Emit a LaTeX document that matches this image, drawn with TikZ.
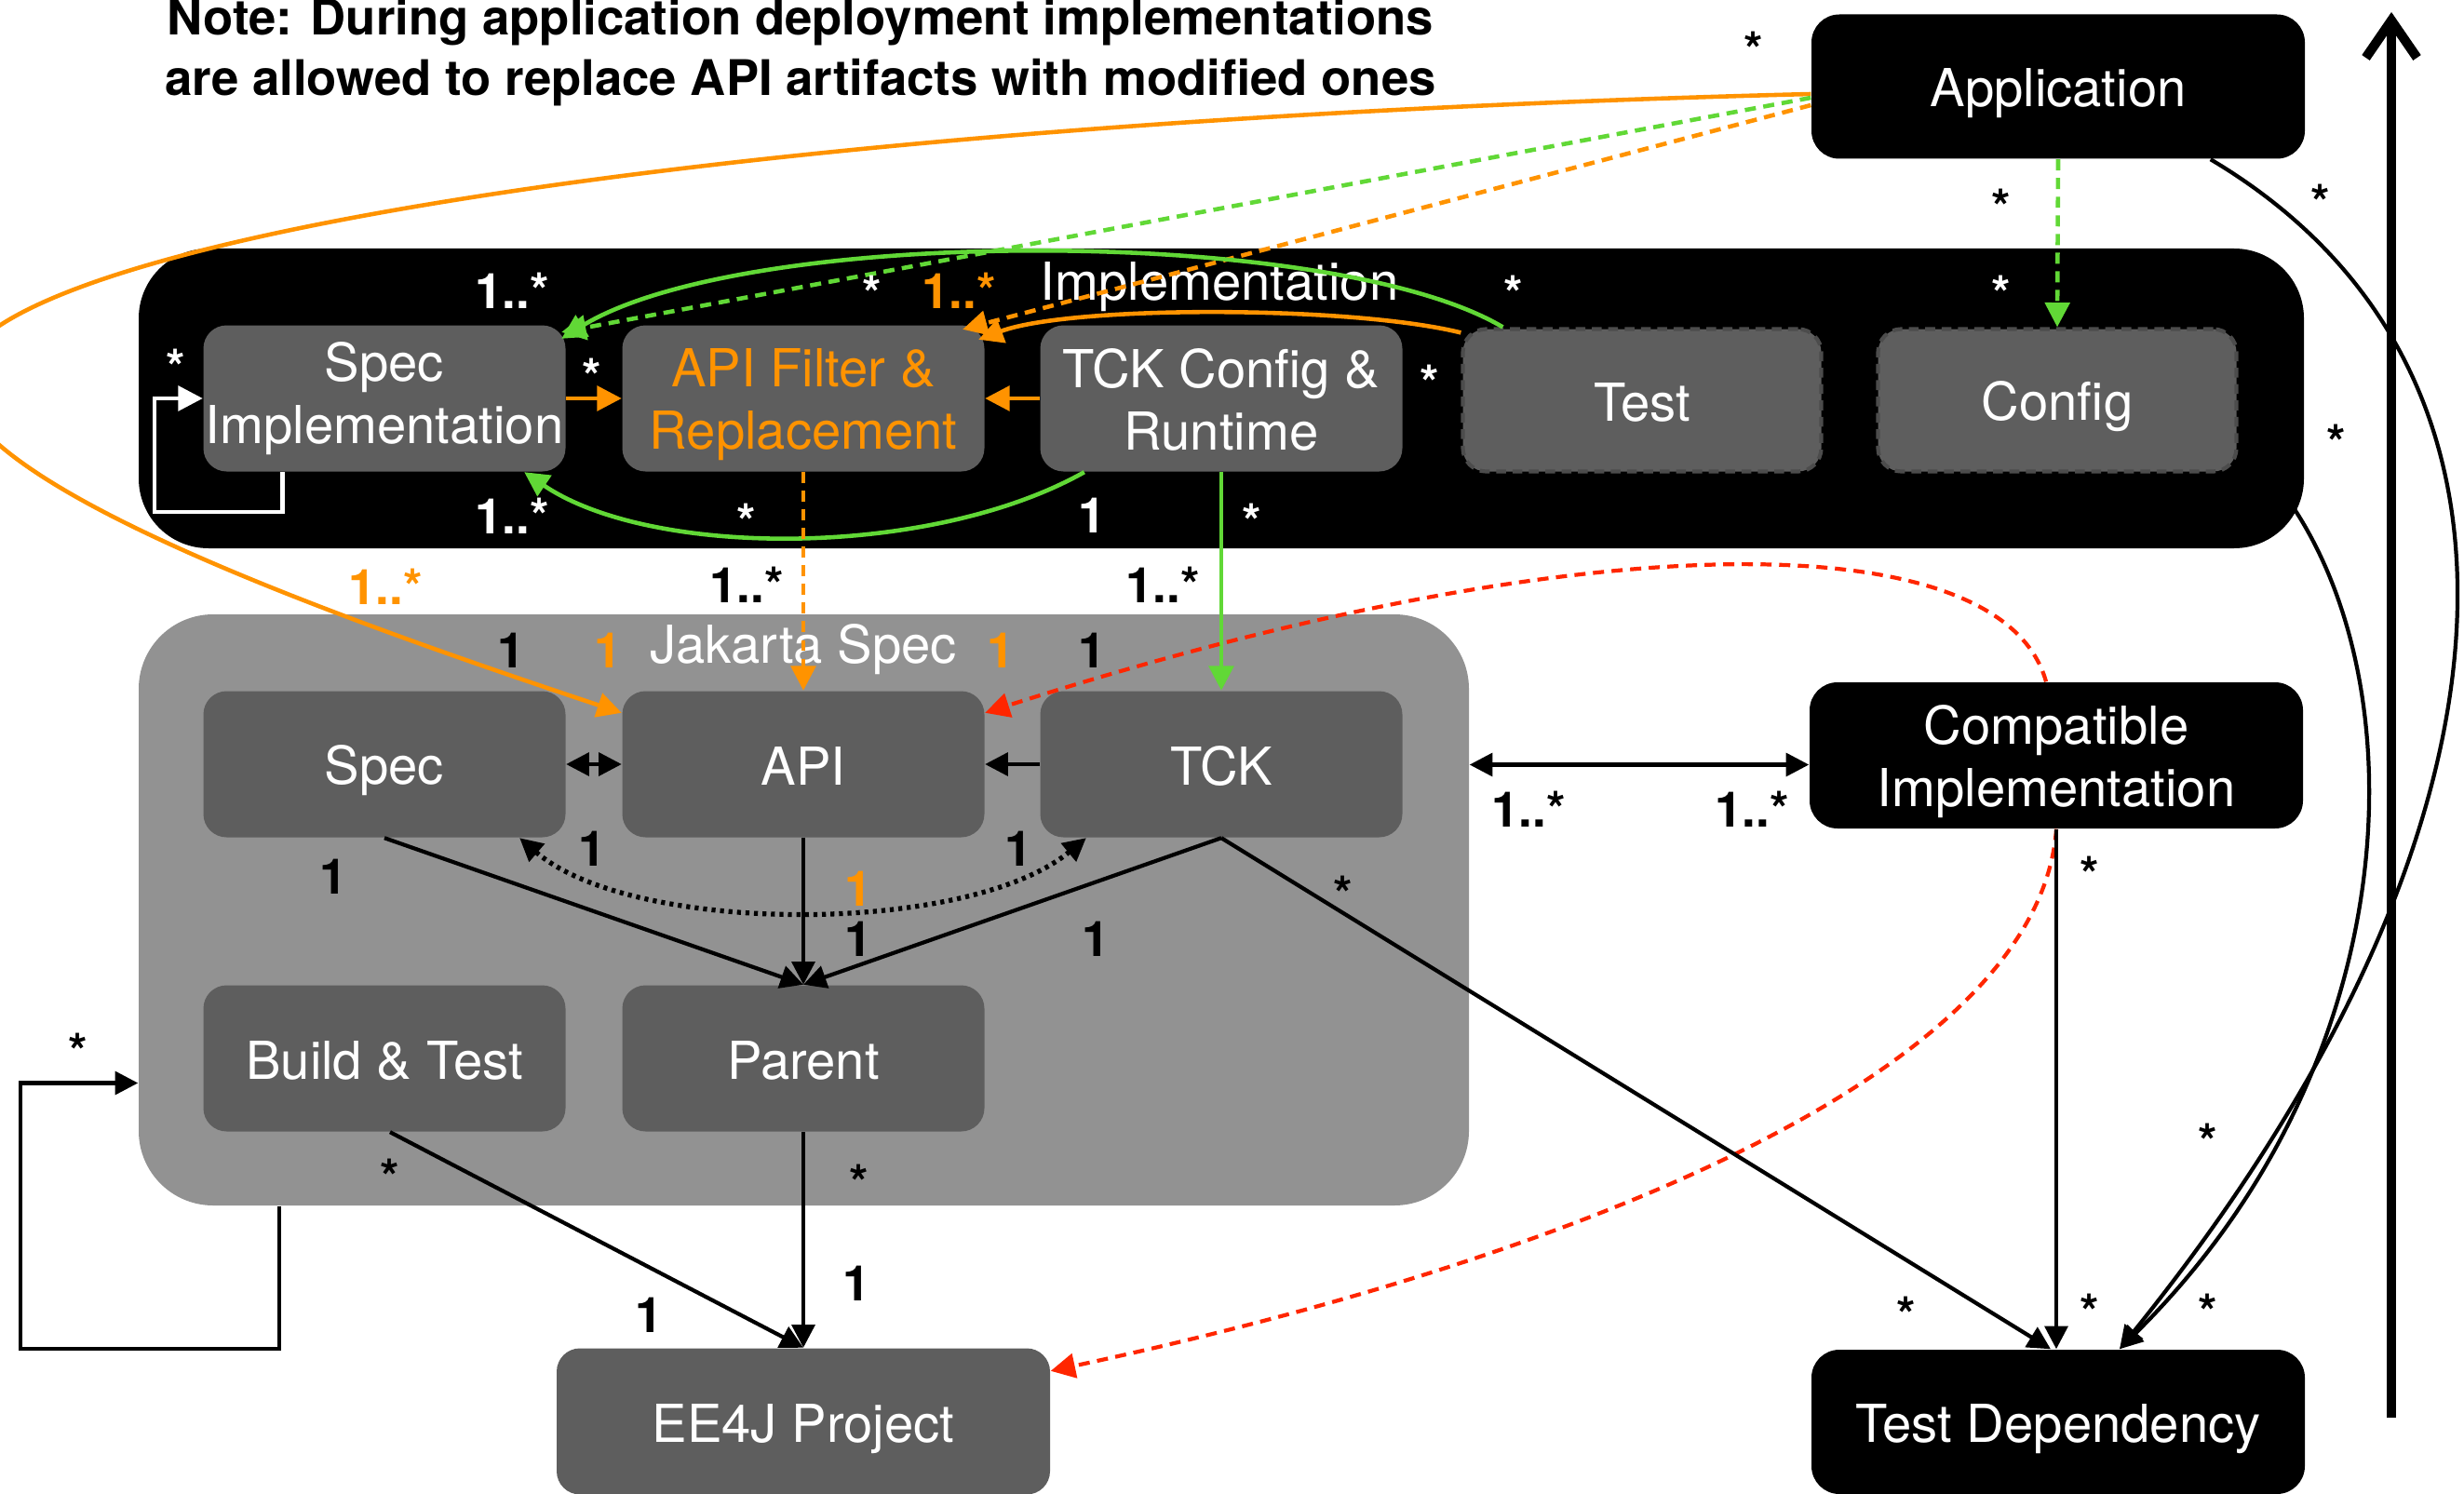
\documentclass[tikz,border=0pt]{standalone}
\usepackage{fontspec}
\setmainfont{TeX Gyre Heros}
\usetikzlibrary{arrows.meta}
\definecolor{boxgray}{HTML}{5E5E5E}
\definecolor{jakgray}{HTML}{929292}
\definecolor{ora}{HTML}{FF9300}
\definecolor{grn}{HTML}{61D836}
\definecolor{redd}{HTML}{FF2600}
\newcommand{\boxstrut}{\rule[-3pt]{0pt}{15pt}}
\newcommand{\onestrut}{\rule[-2pt]{0pt}{18pt}}
\newcommand{\topstrut}{\rule{0pt}{15.5pt}}

\begin{document}
\begin{tikzpicture}[
  container/.style={rounded corners=0.75cm, minimum width=#1, inner sep=0pt},
  title/.style={text=white, font=\fontsize{16}{19}\selectfont, inner sep=0pt},
  box/.style={fill=boxgray, rounded corners=0.25cm, minimum width=3.89cm, minimum height=1.57cm,
    text=white, align=center, font=\fontsize{16}{19}\selectfont, inner sep=0pt,
    execute at begin node=\boxstrut, execute at end node=\boxstrut},
  single/.style={execute at begin node=\onestrut, execute at end node={}},
  ghost/.style={box, single, draw=black!70, line width=1.2pt, dash pattern=on 3pt off 2pt,
    minimum width=3.85cm, minimum height=1.53cm},
  blackbox/.style={box, fill=black, minimum width=5.3cm, minimum height=1.55cm, rounded corners=0.3cm},
  mult/.style={font=\bfseries\fontsize{15}{18}\selectfont, inner sep=0pt},
  starlbl/.style={mult, yshift=-1.1mm},
  link/.style={line width=1.2pt, -{Triangle[length=7pt,width=7pt]}},
  dblink/.style={line width=1.2pt, {Triangle[length=7pt,width=7pt]}-{Triangle[length=7pt,width=7pt]}},
  dotlink/.style={dblink, line width=1.5pt, dash pattern=on 1.2pt off 1.4pt},
  orangeline/.style={ora, line width=1.3pt, -{Triangle[length=7.5pt,width=7.5pt]}},
  orangedash/.style={orangeline, dash pattern=on 3.4pt off 2.3pt},
  greenline/.style={grn, line width=1.3pt, -{Triangle[length=7.5pt,width=7.5pt]}},
  greendash/.style={greenline, dash pattern=on 3.4pt off 2.3pt},
  whiteline/.style={white, line width=1.3pt, -{Triangle[length=7.5pt,width=7.5pt]}},
  reddash/.style={redd, line width=1.2pt, dash pattern=on 3.4pt off 2.3pt, -{Triangle[length=7.5pt,width=7.5pt]}},
  bigarrow/.style={line width=2.9pt, -{Straight Barb[length=0.4cm,width=0.55cm]}}
]
\useasboundingbox (0,0) rectangle (26.47,-16.05);

% note
\node[mult, font=\bfseries\fontsize{15}{18.6}\selectfont, align=center] (note) at (8.60,-0.56)
  {Note: During application deployment implementations\\are allowed to replace API artifacts with modified ones};

% containers
\node[container=23.26cm, fill=black, minimum height=3.22cm] (implbox) at (13.12,-4.28) {};
\node[title] (impltitle) at (13.10,-3.08) {Implementation};
\node[container=14.29cm, fill=jakgray, minimum height=6.35cm, rounded corners=0.8cm] (jakbox) at (8.635,-9.775) {};
\node[title] (jaktitle) at (8.63,-6.98) {Jakarta Spec};

% boxes
\node[box] (specimpl) at (4.13,-4.28) {Spec\\Implementation};
\node[box, text=ora] (apifilter) at (8.63,-4.28) {\topstrut API Filter \&\\Replacement};
\node[box] (tckconf) at (13.12,-4.28) {\topstrut TCK Config \&\\Runtime};
\node[ghost] (test) at (17.64,-4.30) {Test};
\node[ghost] (config) at (22.10,-4.30) {Config};
\node[box, single] (spec) at (4.13,-8.21) {Spec};
\node[box, single] (api) at (8.63,-8.21) {API};
\node[box, single] (tck) at (13.12,-8.21) {TCK};
\node[box, single] (buildtest) at (4.13,-11.37) {Build \& Test};
\node[box, single] (parent) at (8.63,-11.37) {Parent};
\node[box, single, minimum width=5.3cm] (ee4j) at (8.63,-15.27) {EE4J Project};
\node[blackbox, single] (app) at (22.11,-0.93) {Application};
\node[blackbox, minimum height=1.57cm] (compat) at (22.09,-8.115) {\topstrut Compatible\\Implementation};
\node[blackbox, single] (testdep) at (22.11,-15.275) {Test Dependency};

\coordinate (selfloop) at (1.66,-5.50);
\coordinate (jakloop) at (0.22,-14.49);
\coordinate (ciport) at ([yshift=-1mm]compat.west);
\coordinate (flowbot) at (25.69,-15.23);
\coordinate (flowtop) at (25.69,-0.13);

% application links
\draw[orangeline] ([yshift=-0.8mm]app.west) .. controls (8,-1.3) and (-0.5,-2.6) .. (-0.45,-4.1)
  .. controls (-0.4,-5.2) and (3.5,-6.6) .. ([yshift=-2.4mm]api.north west);
\draw[greendash] ([yshift=-1.2mm]app.west) -- ([xshift=-0.5mm,yshift=-0.8mm]specimpl.north east);
\draw[orangedash] ([yshift=-2mm]app.west) -- ([xshift=-2.4mm,yshift=-0.5mm]apifilter.north east);
\draw[greendash] (app.south) -- (config.north);

% implementation links
\draw[greenline] ([xshift=4.5mm]test.north west) .. controls (14.3,-2.42) and (8.0,-2.42) .. ([xshift=-0.5mm,yshift=-1.5mm]specimpl.north east);
\draw[orangeline] ([yshift=-0.6mm]test.north west) .. controls (14.5,-3.28) and (11.5,-3.28) .. ([xshift=-0.7mm,yshift=-1.6mm]apifilter.north east);
\draw[greenline] ([xshift=4.8mm]tckconf.south west) .. controls (10.0,-6.0) and (7.0,-6.0) .. ([xshift=-4.5mm]specimpl.south east);
\draw[orangeline] (specimpl.east) -- (apifilter.west);
\draw[orangeline] (tckconf.west) -- (apifilter.east);
\draw[whiteline] ([xshift=8.55mm]specimpl.south west) |- (selfloop) |- (specimpl.west);
\draw[orangedash] (apifilter.south) -- (api.north);
\draw[greenline] (tckconf.south) -- (tck.north);

% jakarta spec links
\draw[dblink] (spec.east) -- (api.west);
\draw[link] (tck.west) -- (api.east);
\draw[link] (spec.south) -- (parent.north);
\draw[link] (api.south) -- (parent.north);
\draw[link] (tck.south) -- (parent.north);
\draw[dotlink] ([xshift=-5mm]spec.south east) .. controls (6.8,-10.05) and (10.4,-10.05) .. ([xshift=5mm]tck.south west);
\draw[link] ([xshift=0.6mm]buildtest.south) -- (ee4j.north);
\draw[link] (parent.south) -- (ee4j.north);
\draw[link] ([xshift=15.2mm]jakbox.south west) |- (jakloop) |- ([yshift=-18.6mm]jakbox.west);

% compatible implementation links
\draw[reddash] ([xshift=-1.1mm]compat.north) .. controls (21.5,-5.6) and (17.0,-5.6) .. ([yshift=-2.4mm]api.north east);
\draw[reddash] (compat.south) .. controls (21.9,-11.5) and (17.0,-13.5) .. ([yshift=-2.5mm]ee4j.north east);
\draw[dblink] (jakbox.east |- ciport) -- (ciport);
\draw[link] (tck.south) -- ([xshift=-0.8mm]testdep.north);
\draw[link] (compat.south) -- (compat.south |- testdep.north);
\draw[link] ([xshift=-10.2mm]app.south east) .. controls (27.6,-4.0) and (27.2,-9.0) .. ([xshift=6.6mm]testdep.north);
\draw[link] ([shift={(-1.3mm,4.6mm)}]implbox.south east) .. controls (26.0,-7.5) and (25.8,-11.5) .. ([xshift=6.6mm]testdep.north);
\draw[bigarrow] (flowbot) -- (flowtop);

% multiplicities inside implementation
\node[mult, text=white] (w1) at (5.50,-3.12) {1..*};
\node[starlbl, text=white] (w2) at (9.37,-3.04) {*};
\node[mult, text=ora] (o1) at (10.30,-3.12) {1..*};
\node[starlbl, text=white] (w3) at (16.26,-3.04) {*};
\node[starlbl, text=white] (w4) at (21.50,-3.04) {*};
\node[starlbl, text=white] (w5) at (1.89,-3.83) {*};
\node[starlbl, text=white] (w6) at (6.36,-3.93) {*};
\node[starlbl, text=white] (w7) at (15.36,-4.00) {*};
\node[mult, text=white] (w8) at (5.50,-5.54) {1..*};
\node[starlbl, text=white] (w9) at (8.02,-5.49) {*};
\node[mult, text=white] (w10) at (11.73,-5.54) {1};
\node[starlbl, text=white] (w11) at (13.45,-5.49) {*};

% multiplicities outside
\node[starlbl] (m1) at (18.84,-0.42) {*};
\node[starlbl] (m2) at (21.50,-2.11) {*};
\node[starlbl] (m3) at (24.93,-2.06) {*};
\node[starlbl] (m4) at (25.10,-4.64) {*};
\node[mult, text=ora] (o2) at (4.14,-6.30) {1..*};
\node[mult] (m5) at (8.02,-6.28) {1..*};
\node[mult] (m6) at (12.49,-6.28) {1..*};
\node[mult] (m7) at (5.49,-6.99) {1};
\node[mult, text=ora] (o3) at (6.53,-6.99) {1};
\node[mult, text=ora] (o4) at (10.75,-6.99) {1};
\node[mult] (m8) at (11.73,-6.99) {1};
\node[mult] (m9) at (16.42,-8.69) {1..*};
\node[mult] (m10) at (18.82,-8.69) {1..*};
\node[starlbl] (m11) at (22.45,-9.28) {*};
\node[mult] (m12) at (3.58,-9.42) {1};
\node[mult] (m13) at (6.36,-9.12) {1};
\node[mult] (m14) at (10.94,-9.12) {1};
\node[mult, text=ora] (o5) at (9.22,-9.55) {1};
\node[mult] (m15) at (9.22,-10.09) {1};
\node[mult] (m16) at (11.77,-10.09) {1};
\node[starlbl] (m17) at (14.43,-9.49) {*};
\node[starlbl] (m18) at (0.84,-11.18) {*};
\node[starlbl] (m19) at (23.72,-12.15) {*};
\node[starlbl] (m20) at (4.19,-12.53) {*};
\node[starlbl] (m21) at (9.23,-12.59) {*};
\node[mult] (m22) at (9.20,-13.79) {1};
\node[mult] (m23) at (6.97,-14.13) {1};
\node[starlbl] (m24) at (20.48,-14.01) {*};
\node[starlbl] (m25) at (22.45,-13.98) {*};
\node[starlbl] (m26) at (23.72,-13.98) {*};
\end{tikzpicture}
\end{document}
